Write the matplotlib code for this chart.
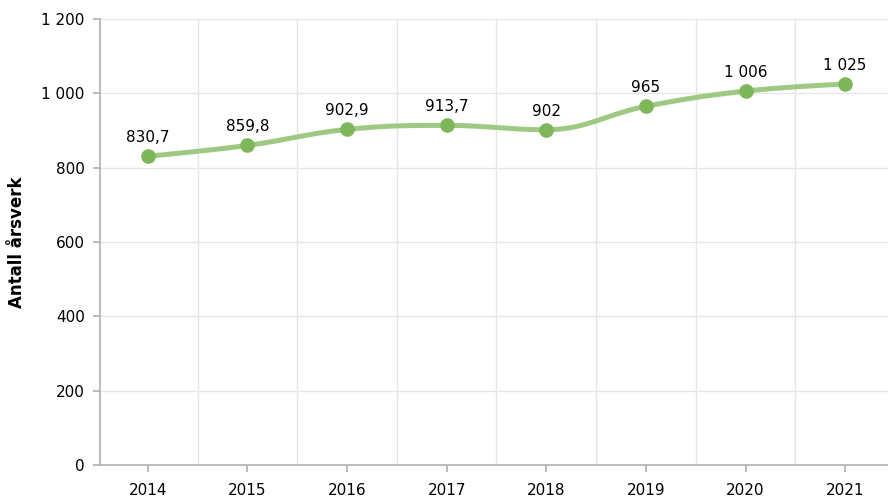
import numpy as np
import matplotlib
matplotlib.use('Agg')
import matplotlib.pyplot as plt

# data
years = ['2014', '2015', '2016', '2017', '2018', '2019', '2020', '2021']
values = [830.7, 859.8, 902.9, 913.7, 902, 965, 1006, 1025]
labels = ['830,7', '859,8', '902,9', '913,7', '902', '965', '1 006', '1 025']
yticks = [0, 200, 400, 600, 800, 1000, 1200]
ytick_labels = ['0', '200', '400', '600', '800', '1 000', '1 200']

plt.rcParams['font.family'] = ['DejaVu Sans']

line_color = '#9dc983'
marker_color = '#7db75a'
grid_color = '#e6e6e6'
axis_color = '#b0b0b0'


# spline through the points, bezier control points like a highcharts spline
def smooth(x, y, n=40):
    x = [float(v) for v in x]
    y = [float(v) for v in y]
    k = len(x)
    left = [(x[i], y[i]) for i in range(k)]
    right = [(x[i], y[i]) for i in range(k)]
    for i in range(1, k - 1):
        lx = (1.5 * x[i] + x[i - 1]) / 2.5
        ly = (1.5 * y[i] + y[i - 1]) / 2.5
        rx = (1.5 * x[i] + x[i + 1]) / 2.5
        ry = (1.5 * y[i] + y[i + 1]) / 2.5
        corr = (ry - ly) * (rx - x[i]) / (rx - lx) + y[i] - ry
        ly += corr
        ry += corr
        if ly > y[i - 1] and ly > y[i]:
            ly = max(y[i - 1], y[i])
            ry = 2 * y[i] - ly
        elif ly < y[i - 1] and ly < y[i]:
            ly = min(y[i - 1], y[i])
            ry = 2 * y[i] - ly
        if ry > y[i + 1] and ry > y[i]:
            ry = max(y[i + 1], y[i])
            ly = 2 * y[i] - ry
        elif ry < y[i + 1] and ry < y[i]:
            ry = min(y[i + 1], y[i])
            ly = 2 * y[i] - ry
        left[i] = (lx, ly)
        right[i] = (rx, ry)
    t = np.linspace(0, 1, n)[:, None]
    pts = []
    for i in range(k - 1):
        p0 = np.array([x[i], y[i]])
        p1 = np.array(right[i])
        p2 = np.array(left[i + 1])
        p3 = np.array([x[i + 1], y[i + 1]])
        seg = ((1 - t) ** 3 * p0 + 3 * (1 - t) ** 2 * t * p1
               + 3 * (1 - t) * t ** 2 * p2 + t ** 3 * p3)
        pts.append(seg)
    pts = np.vstack(pts)
    return pts[:, 0], pts[:, 1]


fig = plt.figure(figsize=(8.88, 4.98), dpi=100)
ax = fig.add_axes([100 / 888, 33 / 498, 788 / 888, 446 / 498])

x = np.arange(len(years))
sx, sy = smooth(x, values)
ax.plot(sx, sy, color=line_color, lw=3.6, solid_capstyle='round', zorder=3)
ax.plot(x, values, 'o', color=marker_color, ms=9.5, zorder=4)

for xi, v, lab in zip(x, values, labels):
    ax.annotate(lab, (xi, v), xytext=(0, 8), textcoords='offset points',
                ha='center', va='bottom', fontsize=11, color='#000000')

ax.set_xlim(-0.48, 7.43)
ax.set_ylim(0, 1200)
ax.set_xticks(x)
ax.set_xticklabels(years)
ax.set_yticks(yticks)
ax.set_yticklabels(ytick_labels)

# gridlines between categories and at y ticks
for g in np.arange(0.5, len(years) - 0.5, 1):
    ax.axvline(g, color=grid_color, lw=1, zorder=0)
for t in yticks[1:]:
    ax.axhline(t, color=grid_color, lw=1, zorder=0)

for s in ['top', 'right']:
    ax.spines[s].set_visible(False)
for s in ['left', 'bottom']:
    ax.spines[s].set_color(axis_color)
    ax.spines[s].set_linewidth(1.2)

ax.tick_params(axis='both', colors=axis_color, labelcolor='#000000',
               labelsize=11, length=5, width=1.2)
ax.tick_params(axis='x', pad=8)
ax.tick_params(axis='y', pad=6)

ax.set_ylabel('Antall årsverk', fontsize=12, fontweight='bold')
ax.yaxis.set_label_coords(-0.094, 0.5)

fig.savefig('out.png', dpi=100)
